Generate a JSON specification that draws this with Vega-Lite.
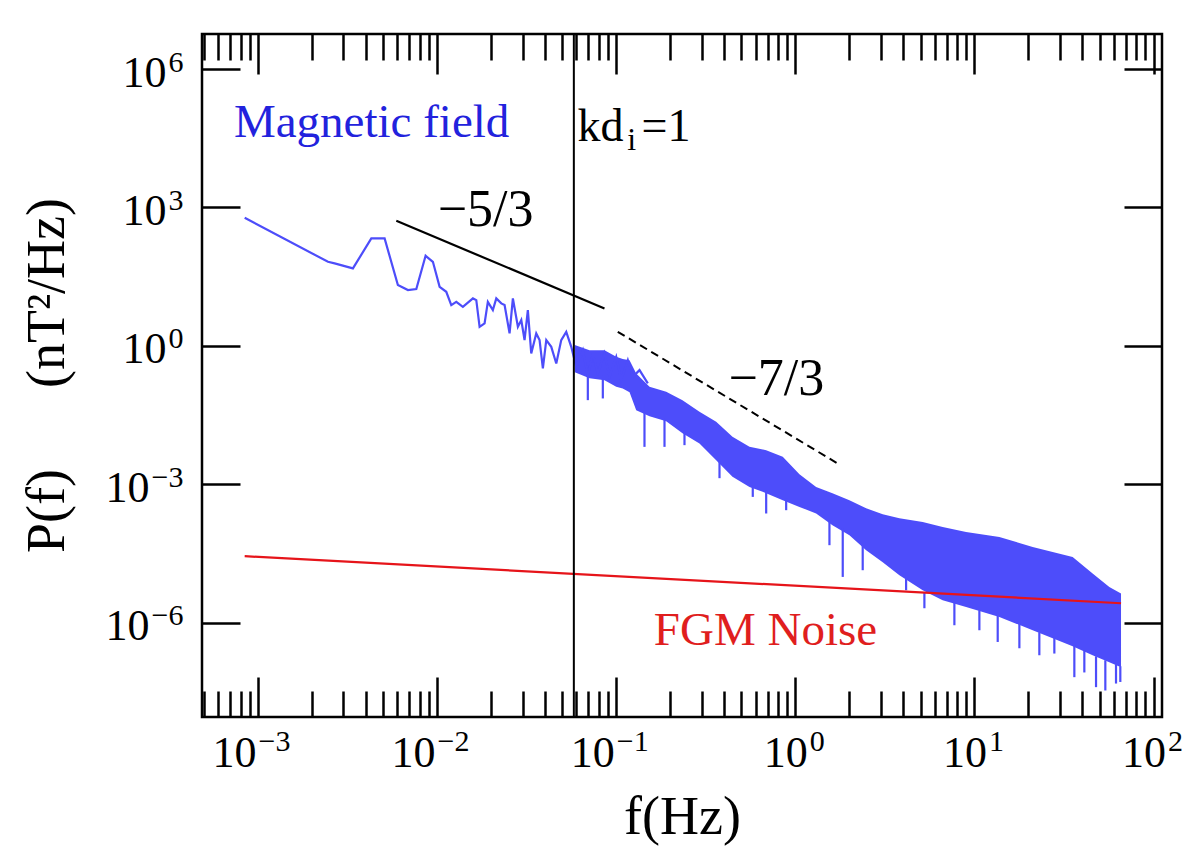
{
  "$schema": "https://vega.github.io/schema/vega-lite/v6.json",
  "width": 960,
  "height": 683,
  "autosize": {"type": "none"},
  "padding": {"left": 202, "top": 34, "right": 42, "bottom": 133},
  "background": "white",
  "config": {
    "view": {"stroke": "black", "strokeWidth": 2.5},
    "font": "Liberation Serif",
    "axis": {"domain": false, "grid": false, "tickColor": "black", "tickWidth": 2.5, "labelColor": "black", "titleColor": "black", "labelFont": "Liberation Serif", "titleFont": "Liberation Serif", "titleFontWeight": "normal", "labelFlush": false, "labelOverlap": false, "labelBound": false}
  },
  "datasets": {
    "mag": [
      {"f": 0.000843, "p": 598.6}, {"f": 0.002459, "p": 66.6}, {"f": 0.002679, "p": 61.5}, {"f": 0.003389, "p": 47.9},
      {"f": 0.004293, "p": 214.1}, {"f": 0.005093, "p": 214.1}, {"f": 0.006041, "p": 20.83}, {"f": 0.006873, "p": 16.23},
      {"f": 0.007655, "p": 17.06}, {"f": 0.008627, "p": 89.9}, {"f": 0.009475, "p": 66.6}, {"f": 0.01033, "p": 19.13},
      {"f": 0.01125, "p": 14.91}, {"f": 0.012, "p": 7.68}, {"f": 0.0128, "p": 9.05}, {"f": 0.01393, "p": 7.05},
      {"f": 0.01585, "p": 10.72}, {"f": 0.01655, "p": 9.85}, {"f": 0.01727, "p": 2.6}, {"f": 0.01841, "p": 3.08},
      {"f": 0.0192, "p": 9.05}, {"f": 0.02048, "p": 5.98}, {"f": 0.0214, "p": 10.72}, {"f": 0.02282, "p": 8.36},
      {"f": 0.02381, "p": 7.68}, {"f": 0.02539, "p": 1.87}, {"f": 0.02649, "p": 10.72}, {"f": 0.02825, "p": 2.6},
      {"f": 0.02951, "p": 3.63}, {"f": 0.03078, "p": 1.339}, {"f": 0.03211, "p": 5.98}, {"f": 0.03354, "p": 0.689},
      {"f": 0.03577, "p": 1.87}, {"f": 0.03733, "p": 1.339}, {"f": 0.03895, "p": 0.326}, {"f": 0.04069, "p": 1.339},
      {"f": 0.04339, "p": 0.958}, {"f": 0.04627, "p": 0.418}, {"f": 0.04932, "p": 1.339}, {"f": 0.0526, "p": 2.025},
      {"f": 0.0561, "p": 0.958}, {"f": 0.0598, "p": 0.353}, {"f": 0.06511, "p": 0.812}, {"f": 0.06942, "p": 0.2144},
      {"f": 0.07402, "p": 0.689}, {"f": 0.0789, "p": 0.2541}, {"f": 0.08604, "p": 0.689}, {"f": 0.09175, "p": 0.2144},
      {"f": 0.1, "p": 0.5815}, {"f": 0.1066, "p": 0.1818}, {"f": 0.1161, "p": 0.4932}, {"f": 0.1238, "p": 0.2144},
      {"f": 0.1349, "p": 0.2996}, {"f": 0.1501, "p": 0.1542}
    ],
    "band": [
      {"f": 0.0587, "hi": 1.043, "lo": 0.271},
      {"f": 0.07096, "hi": 0.812, "lo": 0.2009},
      {"f": 0.08604, "hi": 0.812, "lo": 0.1818},
      {"f": 0.1, "hi": 0.5815, "lo": 0.1302},
      {"f": 0.1087, "hi": 0.52, "lo": 0.12},
      {"f": 0.1187, "hi": 0.4932, "lo": 0.0999}, {"f": 0.1293, "hi": 0.2541, "lo": 0.0407},
      {"f": 0.1534, "hi": 0.1302, "lo": 0.03016}, {"f": 0.1901, "hi": 0.1014, "lo": 0.0235},
      {"f": 0.2344, "hi": 0.067, "lo": 0.01291}, {"f": 0.2916, "hi": 0.0375, "lo": 0.00772},
      {"f": 0.3614, "hi": 0.0227, "lo": 0.003355}, {"f": 0.4457, "hi": 0.01074, "lo": 0.001459},
      {"f": 0.5545, "hi": 0.00652, "lo": 0.000885}, {"f": 0.6873, "hi": 0.00553, "lo": 0.0006465},
      {"f": 0.8505, "hi": 0.003958, "lo": 0.000456}, {"f": 1.054, "hi": 0.001669, "lo": 0.0003264},
      {"f": 1.306, "hi": 0.000885, "lo": 0.0002348}, {"f": 1.611, "hi": 0.0006465, "lo": 0.0001309},
      {"f": 2.004, "hi": 0.000456, "lo": 0.0000795}, {"f": 2.484, "hi": 0.0003058, "lo": 0.0000376},
      {"f": 3.074, "hi": 0.0002266, "lo": 0.00002066}, {"f": 3.809, "hi": 0.0001857, "lo": 0.0000108},
      {"f": 5.14, "hi": 0.0001544, "lo": 0.00000511}, {"f": 6.645, "hi": 0.0001203, "lo": 0.0000031},
      {"f": 8.977, "hi": 0.0000937, "lo": 0.00000222}, {"f": 13.77, "hi": 0.000073, "lo": 0.000001348},
      {"f": 21.13, "hi": 0.0000443, "lo": 6.94e-7}, {"f": 35.32, "hi": 0.0000269, "lo": 3.124e-7},
      {"f": 45.66, "hi": 0.00001175, "lo": 1.993e-7}, {"f": 56.6, "hi": 0.00000602, "lo": 1.405e-7},
      {"f": 65.78, "hi": 0.00000433, "lo": 1.095e-7}
    ],
    "spikes": [
      {"f": 0.06942, "top": 0.3844, "tip": 0.067}, {"f": 0.08418, "top": 0.2333, "tip": 0.07295},
      {"f": 0.1438, "top": 0.03682, "tip": 0.00652}, {"f": 0.186, "top": 0.0273, "tip": 0.00652},
      {"f": 0.2405, "top": 0.015, "tip": 0.0071}, {"f": 0.3772, "top": 0.003355, "tip": 0.001367},
      {"f": 0.5785, "top": 0.000964, "tip": 0.0005375}, {"f": 0.6873, "top": 0.000751, "tip": 0.0002348},
      {"f": 0.8886, "top": 0.000504, "tip": 0.0002768}, {"f": 1.55, "top": 0.000168, "tip": 0.0000483},
      {"f": 1.839, "top": 0.0001127, "tip": 0.00000992}, {"f": 2.377, "top": 0.0000483, "tip": 0.00001386},
      {"f": 4.152, "top": 0.0000093, "tip": 0.00000511}, {"f": 5.253, "top": 0.00000462, "tip": 0.00000208},
      {"f": 7.724, "top": 0.000002806, "tip": 8.91e-7}, {"f": 10.65, "top": 0.000001883, "tip": 6.94e-7},
      {"f": 13.48, "top": 0.000001467, "tip": 3.87e-7}, {"f": 17.81, "top": 0.000001143, "tip": 2.826e-7},
      {"f": 23.02, "top": 6.28e-7, "tip": 1.993e-7}, {"f": 27.92, "top": 5.14e-7, "tip": 2.17e-7},
      {"f": 36.1, "top": 3.28e-7, "tip": 6.68e-8}, {"f": 41.05, "top": 2.558e-7, "tip": 8.45e-8},
      {"f": 47.71, "top": 1.896e-7, "tip": 4.06e-8}, {"f": 53.77, "top": 1.553e-7, "tip": 3.44e-8},
      {"f": 61.68, "top": 1.272e-7, "tip": 4.86e-8}, {"f": 65.19, "top": 1.151e-7, "tip": 5.26e-8}
    ],
    "noise": [{"f": 0.000843, "p": 0.0000279}, {"f": 65.8, "p": 0.00000267}],
    "fit53": [{"f": 0.00592, "p": 515}, {"f": 0.086, "p": 6.51}],
    "fit73": [{"f": 0.102, "p": 2.03}, {"f": 1.724, "p": 0.00284}],
    "kdi": [{"f": 0.058}],
    "blackText": [
      {"t": "−5/3", "f": 0.01865, "p": 395},
      {"t": "−7/3", "f": 0.784, "p": 0.086}
    ],
    "kdText": [
      {"t": "kd", "f": 0.0608, "p": 27500},
      {"t": "=1", "f": 0.1384, "p": 27500}
    ],
    "subText": [{"t": "i", "f": 0.1152, "p": 17560}],
    "blueText": [{"t": "Magnetic field", "f": 0.00431, "p": 33600}],
    "redText": [{"t": "FGM Noise", "f": 0.681, "p": 3.28e-7}]
  },
  "resolve": {"axis": {"x": "independent", "y": "independent"}},
  "layer": [
    {
      "data": {"name": "band"},
      "mark": {"type": "area", "color": "#4d4dfa", "opacity": 1},
      "encoding": {
        "x": {"field": "f", "type": "quantitative", "scale": {"type": "log", "domain": [0.000487, 111.4], "nice": false}, "axis": null},
        "y": {"field": "hi", "type": "quantitative", "scale": {"type": "log", "domain": [9.16e-9, 5735000], "nice": false}, "axis": null},
        "y2": {"field": "lo"}
      }
    },
    {
      "data": {"name": "spikes"},
      "mark": {"type": "rule", "color": "#4d4dfa", "strokeWidth": 2.2},
      "encoding": {
        "x": {"field": "f", "type": "quantitative", "scale": {"type": "log", "domain": [0.000487, 111.4], "nice": false}, "axis": null},
        "y": {"field": "top", "type": "quantitative", "scale": {"type": "log", "domain": [9.16e-9, 5735000], "nice": false}, "axis": null},
        "y2": {"field": "tip"}
      }
    },
    {
      "data": {"name": "mag"},
      "mark": {"type": "line", "color": "#4d4dfa", "strokeWidth": 2.2},
      "encoding": {
        "x": {"field": "f", "type": "quantitative", "scale": {"type": "log", "domain": [0.000487, 111.4], "nice": false}, "axis": null},
        "y": {"field": "p", "type": "quantitative", "scale": {"type": "log", "domain": [9.16e-9, 5735000], "nice": false}, "axis": null}
      }
    },
    {
      "data": {"name": "noise"},
      "mark": {"type": "line", "color": "#e6141a", "strokeWidth": 2.2},
      "encoding": {
        "x": {"field": "f", "type": "quantitative", "scale": {"type": "log", "domain": [0.000487, 111.4], "nice": false},
          "axis": {
            "orient": "bottom",
            "values": [0.0005, 0.0006, 0.0007, 0.0008, 0.0009, 0.001, 0.002, 0.003, 0.004, 0.005, 0.006, 0.007, 0.008, 0.009, 0.01, 0.02, 0.03, 0.04, 0.05, 0.06, 0.07, 0.08, 0.09, 0.1, 0.2, 0.3, 0.4, 0.5, 0.6, 0.7, 0.8, 0.9, 1, 2, 3, 4, 5, 6, 7, 8, 9, 10, 20, 30, 40, 50, 60, 70, 80, 90, 100],
            "tickSize": {"condition": {"test": "datum.value===0.001||datum.value===0.01||datum.value===0.1||datum.value===1||datum.value===10||datum.value===100", "value": -40}, "value": -26},
            "labels": false,
            "title": "f(Hz)",
            "titleFontSize": 54,
            "titleX": 480,
            "titleY": 116,
            "titleAlign": "center",
            "titleBaseline": "alphabetic"
          }
        },
        "y": {"field": "p", "type": "quantitative", "scale": {"type": "log", "domain": [9.16e-9, 5735000], "nice": false},
          "axis": {
            "orient": "left",
            "values": [0.000001, 0.001, 1, 1000, 1000000],
            "tickSize": -38,
            "labels": false,
            "title": "P(f)\u2003\u2002(nT²/Hz)",
            "titleFontSize": 54,
            "titleAngle": -90,
            "titleX": -139,
            "titleY": 341,
            "titleAlign": "center",
            "titleBaseline": "alphabetic"
          }
        }
      }
    },
    {
      "data": {"name": "kdi"},
      "mark": {"type": "rule", "color": "black", "strokeWidth": 2},
      "encoding": {
        "x": {"field": "f", "type": "quantitative", "scale": {"type": "log", "domain": [0.000487, 111.4], "nice": false}, "axis": null}
      }
    },
    {
      "data": {"name": "fit53"},
      "mark": {"type": "line", "color": "black", "strokeWidth": 2.2},
      "encoding": {
        "x": {"field": "f", "type": "quantitative", "scale": {"type": "log", "domain": [0.000487, 111.4], "nice": false},
          "axis": {
            "orient": "top",
            "values": [0.0005, 0.0006, 0.0007, 0.0008, 0.0009, 0.001, 0.002, 0.003, 0.004, 0.005, 0.006, 0.007, 0.008, 0.009, 0.01, 0.02, 0.03, 0.04, 0.05, 0.06, 0.07, 0.08, 0.09, 0.1, 0.2, 0.3, 0.4, 0.5, 0.6, 0.7, 0.8, 0.9, 1, 2, 3, 4, 5, 6, 7, 8, 9, 10, 20, 30, 40, 50, 60, 70, 80, 90, 100],
            "tickSize": {"condition": {"test": "datum.value===0.001||datum.value===0.01||datum.value===0.1||datum.value===1||datum.value===10||datum.value===100", "value": -40}, "value": -26},
            "labels": false,
            "title": null
          }
        },
        "y": {"field": "p", "type": "quantitative", "scale": {"type": "log", "domain": [9.16e-9, 5735000], "nice": false},
          "axis": {
            "orient": "right",
            "values": [0.000001, 0.001, 1, 1000, 1000000],
            "tickSize": -38,
            "labels": false,
            "title": null
          }
        }
      }
    },
    {
      "data": {"name": "fit73"},
      "mark": {"type": "line", "color": "black", "strokeWidth": 2, "strokeDash": [8, 5]},
      "encoding": {
        "x": {"field": "f", "type": "quantitative", "scale": {"type": "log", "domain": [0.000487, 111.4], "nice": false},
          "axis": {
            "orient": "bottom",
            "values": [0.001, 0.01, 0.1, 1, 10, 100],
            "ticks": false,
            "labelExpr": "'10'",
            "labelFontSize": 44,
            "labelAlign": "right",
            "labelBaseline": "alphabetic",
            "labelPadding": 49,
            "labelOffset": {"condition": {"test": "datum.value<1", "value": -2}, "value": 12},
            "title": null
          }
        },
        "y": {"field": "p", "type": "quantitative", "scale": {"type": "log", "domain": [9.16e-9, 5735000], "nice": false},
          "axis": {
            "orient": "left",
            "values": [0.000001, 0.001, 1, 1000, 1000000],
            "ticks": false,
            "labelExpr": "'10'",
            "labelFontSize": 44,
            "labelAlign": "right",
            "labelBaseline": "alphabetic",
            "labelPadding": {"condition": {"test": "datum.value<1", "value": 53}, "value": 36},
            "labelOffset": 17,
            "title": null
          }
        }
      }
    },
    {
      "data": {"name": "blackText"},
      "mark": {"type": "text", "color": "black", "font": "Liberation Serif", "fontSize": 52, "align": "center", "baseline": "alphabetic"},
      "encoding": {
        "x": {"field": "f", "type": "quantitative", "scale": {"type": "log", "domain": [0.000487, 111.4], "nice": false},
          "axis": {
            "orient": "bottom",
            "values": [0.001, 0.01, 0.1, 1, 10, 100],
            "ticks": false,
            "labelExpr": "datum.value===0.001?'−3':datum.value===0.01?'−2':datum.value===0.1?'−1':datum.value===1?'0':datum.value===10?'1':'2'",
            "labelFontSize": 30,
            "labelAlign": "left",
            "labelBaseline": "alphabetic",
            "labelPadding": 33,
            "labelOffset": {"condition": {"test": "datum.value<1", "value": 0}, "value": 14},
            "title": null
          }
        },
        "y": {"field": "p", "type": "quantitative", "scale": {"type": "log", "domain": [9.16e-9, 5735000], "nice": false},
          "axis": {
            "orient": "left",
            "values": [0.000001, 0.001, 1, 1000, 1000000],
            "ticks": false,
            "labelExpr": "datum.value===1000000?'6':datum.value===1000?'3':datum.value===1?'0':datum.value===0.001?'−3':'−6'",
            "labelFontSize": 30,
            "labelAlign": "right",
            "labelBaseline": "alphabetic",
            "labelPadding": 19,
            "labelOffset": 2,
            "title": null
          }
        },
        "text": {"field": "t"}
      }
    },
    {
      "data": {"name": "kdText"},
      "mark": {"type": "text", "color": "black", "font": "Liberation Serif", "fontSize": 46, "align": "left", "baseline": "alphabetic"},
      "encoding": {
        "x": {"field": "f", "type": "quantitative", "scale": {"type": "log", "domain": [0.000487, 111.4], "nice": false}, "axis": null},
        "y": {"field": "p", "type": "quantitative", "scale": {"type": "log", "domain": [9.16e-9, 5735000], "nice": false}, "axis": null},
        "text": {"field": "t"}
      }
    },
    {
      "data": {"name": "subText"},
      "mark": {"type": "text", "color": "black", "font": "Liberation Serif", "fontSize": 32, "align": "left", "baseline": "alphabetic"},
      "encoding": {
        "x": {"field": "f", "type": "quantitative", "scale": {"type": "log", "domain": [0.000487, 111.4], "nice": false}, "axis": null},
        "y": {"field": "p", "type": "quantitative", "scale": {"type": "log", "domain": [9.16e-9, 5735000], "nice": false}, "axis": null},
        "text": {"field": "t"}
      }
    },
    {
      "data": {"name": "blueText"},
      "mark": {"type": "text", "color": "#2222dd", "font": "Liberation Serif", "fontSize": 47, "align": "center", "baseline": "alphabetic"},
      "encoding": {
        "x": {"field": "f", "type": "quantitative", "scale": {"type": "log", "domain": [0.000487, 111.4], "nice": false}, "axis": null},
        "y": {"field": "p", "type": "quantitative", "scale": {"type": "log", "domain": [9.16e-9, 5735000], "nice": false}, "axis": null},
        "text": {"field": "t"}
      }
    },
    {
      "data": {"name": "redText"},
      "mark": {"type": "text", "color": "#e01e1e", "font": "Liberation Serif", "fontSize": 47, "align": "center", "baseline": "alphabetic"},
      "encoding": {
        "x": {"field": "f", "type": "quantitative", "scale": {"type": "log", "domain": [0.000487, 111.4], "nice": false}, "axis": null},
        "y": {"field": "p", "type": "quantitative", "scale": {"type": "log", "domain": [9.16e-9, 5735000], "nice": false}, "axis": null},
        "text": {"field": "t"}
      }
    }
  ]
}
